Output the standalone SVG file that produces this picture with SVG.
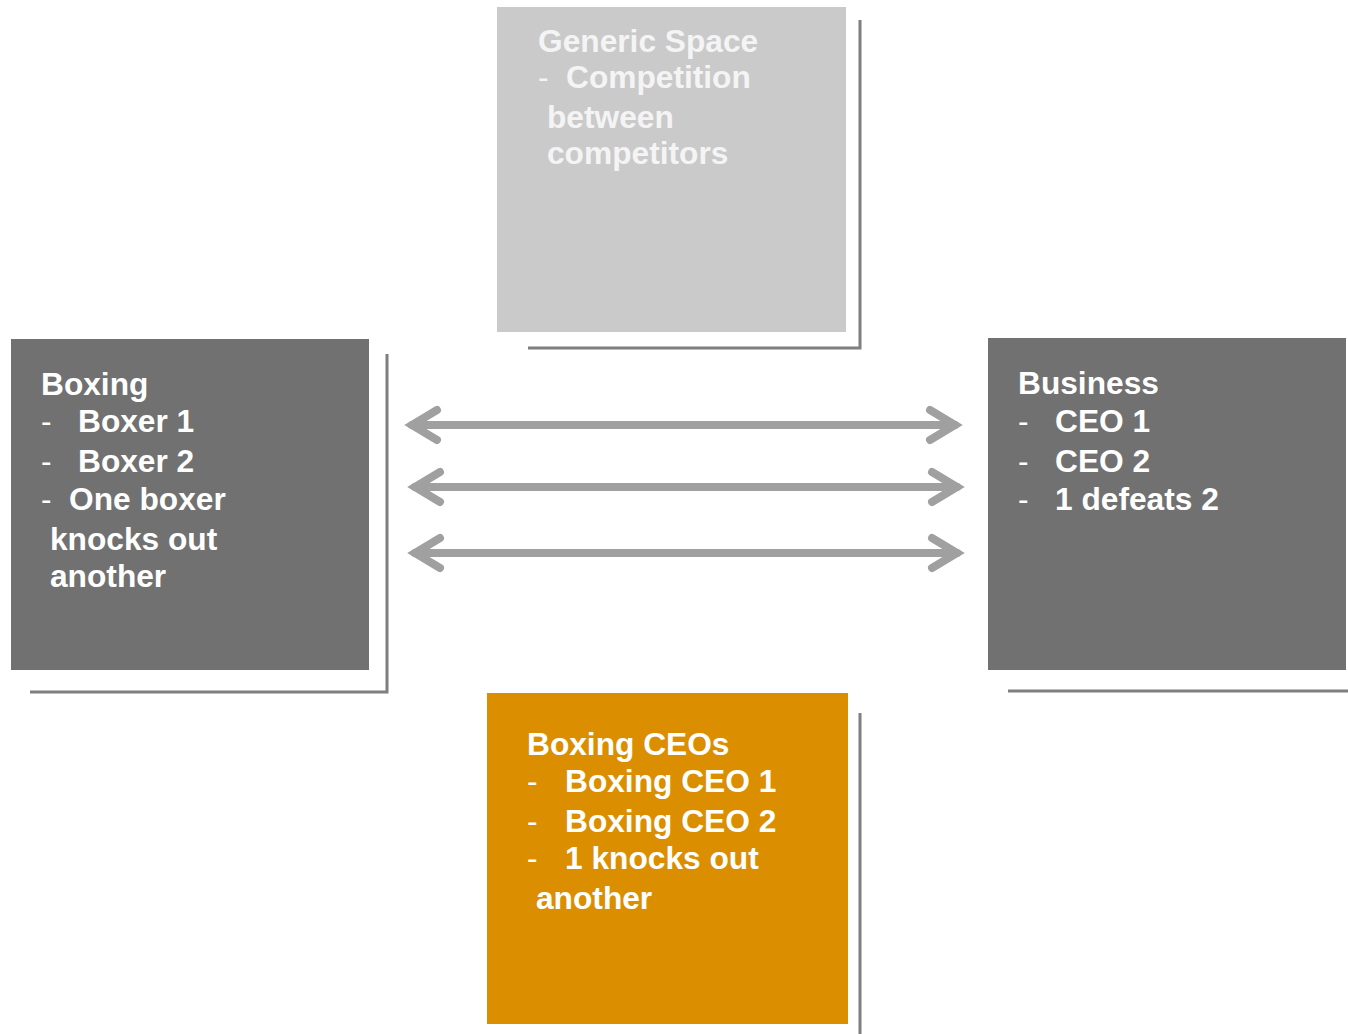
<svg xmlns="http://www.w3.org/2000/svg" width="1348" height="1034" viewBox="0 0 1348 1034">
<style>
.t{font-family:"Liberation Sans",Arial,sans-serif;font-weight:bold;font-size:31.7px;fill:#ffffff}
.g{fill:#f4f4f4}
.d{font-weight:normal}
.sh{fill:none;stroke:#7f7f7f;stroke-width:3}
.ar{fill:none;stroke:#a0a0a0;stroke-width:8;stroke-linecap:round;stroke-linejoin:miter}
</style>
<rect width="1348" height="1034" fill="#ffffff"/>
<g id="generic">
<polyline class="sh" points="860,20 860,348 528,348"/>
<rect x="497" y="7" width="349" height="325" fill="#cacaca"/>
<text class="t g" x="538" y="52">Generic Space</text>
<text class="t g" y="88"><tspan class="d" x="538">-</tspan><tspan x="566">Competition</tspan></text>
<text class="t g" x="547" y="128">between</text>
<text class="t g" x="547" y="164">competitors</text>
</g>
<g id="boxing">
<polyline class="sh" points="387,354 387,692 30,692"/>
<rect x="11" y="339" width="358" height="331" fill="#717171"/>
<text class="t" x="41" y="395">Boxing</text>
<text class="t" y="432"><tspan class="d" x="41">-</tspan><tspan x="78">Boxer 1</tspan></text>
<text class="t" y="472"><tspan class="d" x="41">-</tspan><tspan x="78">Boxer 2</tspan></text>
<text class="t" y="510"><tspan class="d" x="41">-</tspan><tspan x="69">One boxer</tspan></text>
<text class="t" x="50" y="550">knocks out</text>
<text class="t" x="50" y="587">another</text>
</g>
<g id="business">
<line class="sh" x1="1008" y1="691" x2="1348" y2="691"/>
<rect x="988" y="338" width="358" height="332" fill="#717171"/>
<text class="t" x="1018" y="394">Business</text>
<text class="t" y="432"><tspan class="d" x="1018">-</tspan><tspan x="1055">CEO 1</tspan></text>
<text class="t" y="472"><tspan class="d" x="1018">-</tspan><tspan x="1055">CEO 2</tspan></text>
<text class="t" y="510"><tspan class="d" x="1018">-</tspan><tspan x="1055">1 defeats 2</tspan></text>
</g>
<g id="boxing-ceos">
<line class="sh" x1="860" y1="713" x2="860" y2="1034"/>
<rect x="487" y="693" width="361" height="331" fill="#db8f00"/>
<text class="t" x="527" y="755">Boxing CEOs</text>
<text class="t" y="792"><tspan class="d" x="527">-</tspan><tspan x="565">Boxing CEO 1</tspan></text>
<text class="t" y="832"><tspan class="d" x="527">-</tspan><tspan x="565">Boxing CEO 2</tspan></text>
<text class="t" y="869"><tspan class="d" x="527">-</tspan><tspan x="565">1 knocks out</tspan></text>
<text class="t" x="536" y="909">another</text>
</g>
<g id="connectors">
<line class="ar" x1="412" y1="425" x2="955" y2="425"/>
<polyline class="ar" points="437,410 412,425 437,440"/>
<polyline class="ar" points="930,410 955,425 930,440"/>
<line class="ar" x1="415" y1="487" x2="957" y2="487"/>
<polyline class="ar" points="440,472 415,487 440,502"/>
<polyline class="ar" points="932,472 957,487 932,502"/>
<line class="ar" x1="415" y1="553" x2="957" y2="553"/>
<polyline class="ar" points="440,538 415,553 440,568"/>
<polyline class="ar" points="932,538 957,553 932,568"/>
</g>
</svg>
